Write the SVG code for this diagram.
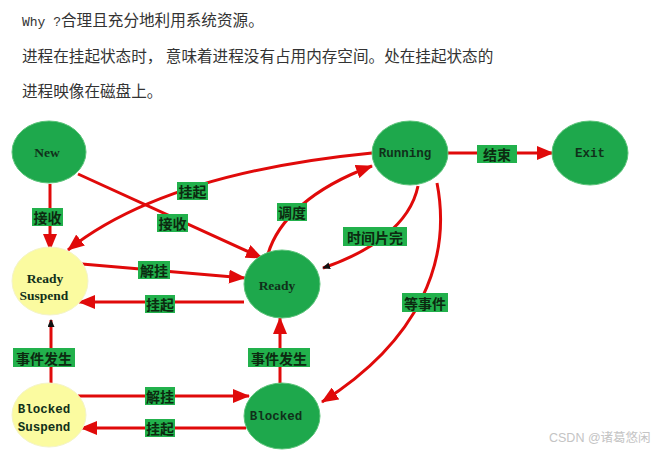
<svg xmlns="http://www.w3.org/2000/svg" width="653" height="454" viewBox="0 0 653 454">
<defs>
<style>
.hdr{font-family:"Noto Sans CJK SC","Liberation Sans",sans-serif;font-size:15.6px;fill:#333}
.mono{font-family:"Liberation Mono",monospace;font-size:13px}
.g{fill:#1ea84c;stroke:#5cc47a;stroke-width:1}
.y{fill:#fbfba0;stroke:#f4f4c8;stroke-width:1}
.nt{font-family:"Liberation Serif",serif;font-weight:bold;font-size:13.5px;fill:#10301a;text-anchor:middle}
.nm{font-family:"Liberation Mono",monospace;font-weight:bold;font-size:12.5px;fill:#10301a;text-anchor:middle}
.e{fill:none;stroke:#e00a0a;stroke-width:3}
.lb{fill:#22b14c}
.lt{font-family:"Noto Sans CJK SC","Liberation Sans",sans-serif;font-weight:bold;font-size:14px;fill:#0c2a10;text-anchor:middle;dominant-baseline:central}
.wm{font-family:"Liberation Sans","Noto Sans CJK SC",sans-serif;font-size:12.5px;fill:#c4c4c4}
</style>
<marker id="ar" markerUnits="userSpaceOnUse" markerWidth="17" markerHeight="14" refX="16" refY="7" orient="auto">
<path d="M0,0 L17,7 L0,14 z" fill="#e00a0a"/>
</marker>
<marker id="ab" markerUnits="userSpaceOnUse" markerWidth="8" markerHeight="7" refX="7" refY="3.5" orient="auto">
<path d="M0,0 L8,3.5 L0,7 z" fill="#111"/>
</marker>
</defs>
<rect width="653" height="454" fill="#fff"/>
<text class="hdr" x="22" y="26"><tspan class="mono">Why ?</tspan>合理且充分地利用系统资源。</text>
<text class="hdr" x="22" y="62">进程在挂起状态时， 意味着进程没有占用内存空间。处在挂起状态的</text>
<text class="hdr" x="22" y="97">进程映像在磁盘上。</text>

<g id="connectors">
<path class="e" d="M50,184 L50,250" marker-end="url(#ar)"/>
<path class="e" d="M78,174 L262,258" marker-end="url(#ar)"/>
<path class="e" d="M372,153 C280,162 150,185 68,250" marker-end="url(#ar)"/>
<path class="e" d="M268,254 C278,220 312,188 372,166" marker-end="url(#ar)"/>
<path class="e" d="M418,186 C410,225 370,252 323,268" marker-end="url(#ab)"/>
<path class="e" d="M437,183 C452,260 420,340 322,402" marker-end="url(#ar)"/>
<path class="e" d="M448,153 L553,153" marker-end="url(#ar)"/>
<path class="e" d="M82,264 L245,278" marker-end="url(#ar)"/>
<path class="e" d="M244,302 L79,302" marker-end="url(#ar)"/>
<path class="e" d="M51,383 L51,320" marker-end="url(#ab)"/>
<path class="e" d="M280,383 L280,318" marker-end="url(#ar)"/>
<path class="e" d="M78,396 L249,396" marker-end="url(#ar)"/>
<path class="e" d="M246,428 L81,428" marker-end="url(#ar)"/>

<rect class="lb" x="32" y="208" width="31" height="18"/><text class="lt" x="47.5" y="217">接收</text>
<rect class="lb" x="157" y="214" width="31" height="18"/><text class="lt" x="172.5" y="223">接收</text>
<rect class="lb" x="177" y="182" width="31" height="18"/><text class="lt" x="192.5" y="191">挂起</text>
<rect class="lb" x="277" y="203" width="30" height="18"/><text class="lt" x="292" y="212">调度</text>
<rect class="lb" x="343" y="227" width="64" height="19"/><text class="lt" x="375" y="236.5">时间片完</text>
<rect class="lb" x="402" y="293" width="46" height="19"/><text class="lt" x="425" y="302.5">等事件</text>
<rect class="lb" x="477" y="145" width="40" height="18"/><text class="lt" x="497" y="154">结束</text>
<rect class="lb" x="138" y="261" width="32" height="18"/><text class="lt" x="154" y="270">解挂</text>
<rect class="lb" x="145" y="295" width="30" height="18"/><text class="lt" x="160" y="304">挂起</text>
<rect class="lb" x="13" y="348" width="62" height="19"/><text class="lt" x="44" y="357.5">事件发生</text>
<rect class="lb" x="248" y="348" width="62" height="19"/><text class="lt" x="279" y="357.5">事件发生</text>
<rect class="lb" x="145" y="387" width="30" height="18"/><text class="lt" x="160" y="396">解挂</text>
<rect class="lb" x="145" y="419" width="30" height="18"/><text class="lt" x="160" y="428">挂起</text>
</g>

<g id="new"><ellipse class="g" cx="49" cy="152" rx="37" ry="31"/><text class="nt" x="47" y="157">New</text></g>
<g id="running"><ellipse class="g" cx="410" cy="153" rx="38" ry="32"/><text class="nm" x="405" y="157">Running</text></g>
<g id="exit"><ellipse class="g" cx="590" cy="153" rx="38" ry="32"/><text class="nm" x="590" y="157">Exit</text></g>
<g id="ready-suspend"><ellipse class="y" cx="50" cy="281" rx="38" ry="34"/><text class="nt" x="45" y="283">Ready</text><text class="nt" x="44" y="300">Suspend</text></g>
<g id="ready"><ellipse class="g" cx="282" cy="284" rx="38" ry="34"/><text class="nt" x="277" y="290">Ready</text></g>
<g id="blocked-suspend"><ellipse class="y" cx="49" cy="415" rx="37" ry="32"/><text class="nm" x="44" y="413">Blocked</text><text class="nm" x="44" y="431">Suspend</text></g>
<g id="blocked"><ellipse class="g" cx="282" cy="416" rx="38" ry="33"/><text class="nm" x="276" y="420">Blocked</text></g>

<text class="wm" x="549" y="442">CSDN @诸葛悠闲</text>
</svg>
